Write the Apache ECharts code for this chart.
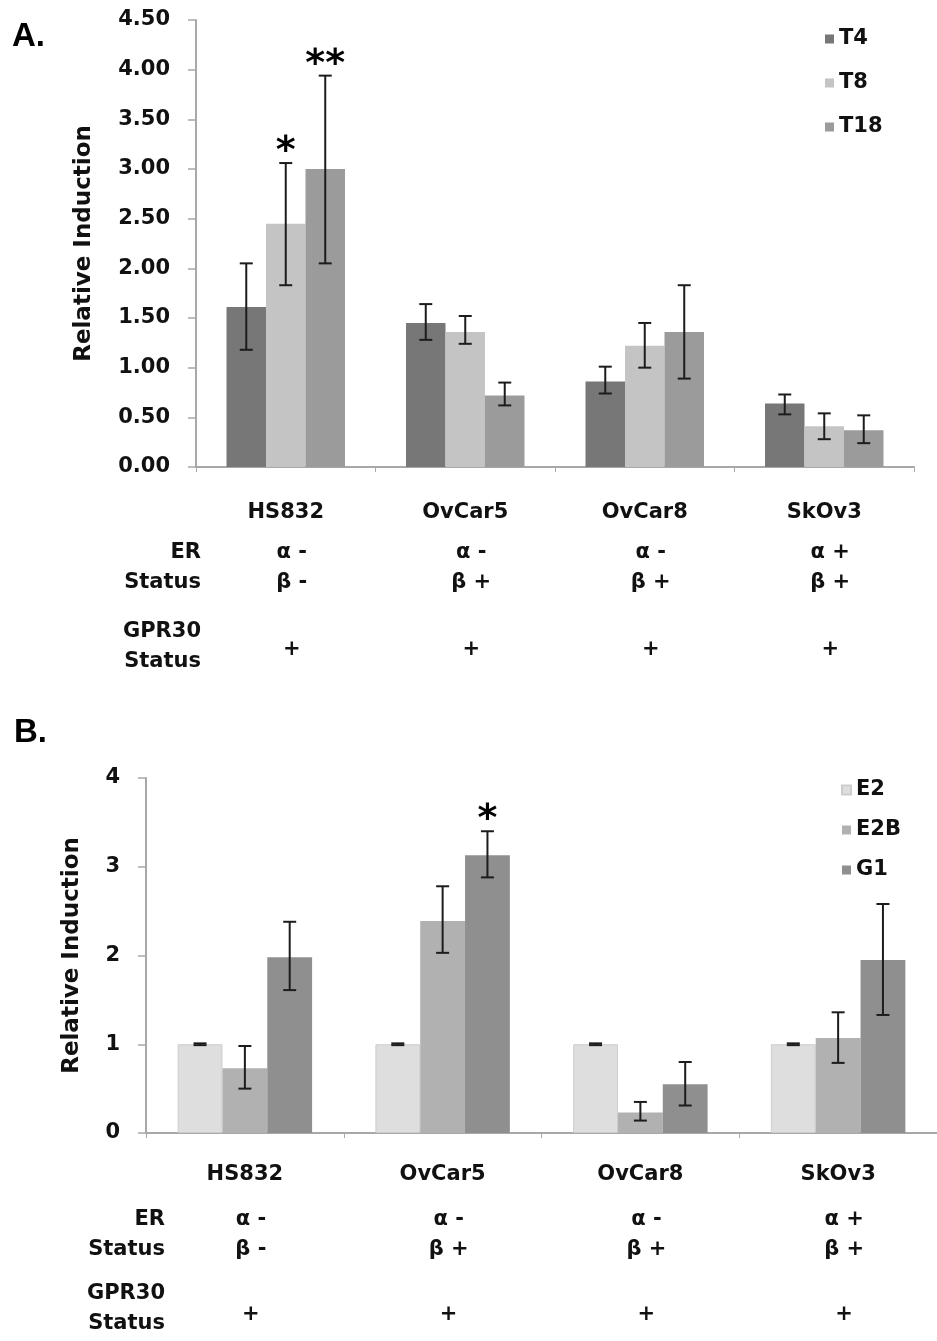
<!DOCTYPE html>
<html>
<head>
<meta charset="utf-8">
<script src="https://cdn.jsdelivr.net/npm/echarts@6/dist/echarts.min.js"></script>
<style>
html,body{margin:0;padding:0;background:#fff;}
#chart{width:937px;height:1341px;}
</style>
</head>
<body>
<div id="chart"></div>
<script>
// ---------- data ----------
const categories = ['HS832', 'OvCar5', 'OvCar8', 'SkOv3'];

// Panel A (time course)
const seriesNamesA = ['T4', 'T8', 'T18'];
const A_T4 = [1.61, 1.45, 0.86, 0.64];
const A_T4_lo = [1.18, 1.28, 0.74, 0.53];
const A_T4_hi = [2.05, 1.64, 1.01, 0.73];
const A_T8 = [2.45, 1.36, 1.22, 0.41];
const A_T8_lo = [1.83, 1.24, 1.00, 0.28];
const A_T8_hi = [3.06, 1.52, 1.45, 0.54];
const A_T18 = [3.00, 0.72, 1.36, 0.37];
const A_T18_lo = [2.05, 0.62, 0.89, 0.24];
const A_T18_hi = [3.94, 0.85, 1.83, 0.52];
const A_sig_T8 = ['*', '', '', ''];
const A_sig_T18 = ['**', '', '', ''];

// Panel B (ligands)
const seriesNamesB = ['E2', 'E2B', 'G1'];
const B_E2 = [1.00, 1.00, 1.00, 1.00];
const B_E2_lo = [0.99, 0.99, 0.99, 0.99];
const B_E2_hi = [1.01, 1.01, 1.01, 1.01];
const B_E2B = [0.73, 2.39, 0.23, 1.07];
const B_E2B_lo = [0.50, 2.03, 0.14, 0.79];
const B_E2B_hi = [0.98, 2.78, 0.35, 1.36];
const B_G1 = [1.98, 3.13, 0.55, 1.95];
const B_G1_lo = [1.61, 2.88, 0.31, 1.33];
const B_G1_hi = [2.38, 3.40, 0.80, 2.58];
const B_sig_G1 = ['', '*', '', ''];

// Status table rows
const erAlpha = ['α -', 'α -', 'α -', 'α +'];
const erBeta = ['β -', 'β +', 'β +', 'β +'];
const gpr30 = ['+', '+', '+', '+'];

// ---------- styling ----------
const FONT = 'DejaVu Sans';
const TXT = '#111';
const AXIS = '#a8a8a8';
const GAP = [0.34, 0.32];
const colorsA = ['#777777', '#c4c4c4', '#9b9b9b'];
const colorsB = ['#dedede', '#b1b1b1', '#8f8f8f'];

const chart = echarts.init(document.getElementById('chart'));

function barSeries(name, data, gi, color, extra) {
  return Object.assign({
    name: name, type: 'bar', xAxisIndex: gi, yAxisIndex: gi,
    data: data, barGap: '0%', barCategoryGap: (GAP[gi] * 100) + '%',
    itemStyle: { color: color }, silent: true
  }, extra || {});
}

function errSeries(gi, k, lo, hi, stars) {
  return {
    type: 'custom', xAxisIndex: gi, yAxisIndex: gi, silent: true, z: 10,
    data: categories.map((c, i) => [i, lo[i], hi[i]]),
    encode: { x: 0, y: [1, 2] },
    renderItem: function (params, api) {
      const i = api.value(0);
      const band = api.size([1, 0])[0];
      const bw = band * (1 - GAP[gi]) / 3;
      const pLo = api.coord([i, api.value(1)]);
      const pHi = api.coord([i, api.value(2)]);
      const x = pLo[0] + (k - 1) * bw;
      const cap = 6.5;
      const st = { stroke: '#1c1c1c', lineWidth: 2 };
      const children = [
        { type: 'line', shape: { x1: x, y1: pLo[1], x2: x, y2: pHi[1] }, style: st },
        { type: 'line', shape: { x1: x - cap, y1: pHi[1], x2: x + cap, y2: pHi[1] }, style: st },
        { type: 'line', shape: { x1: x - cap, y1: pLo[1], x2: x + cap, y2: pLo[1] }, style: st }
      ];
      const s = stars ? stars[params.dataIndex] : '';
      if (s) {
        children.push({
          type: 'text',
          style: { text: s, x: x, y: pHi[1] + 8, align: 'center', verticalAlign: 'bottom',
                   font: 'bold 38px "' + FONT + '"', fill: '#000' }
        });
      }
      return { type: 'group', children: children };
    }
  };
}

function xAxisCfg(gi, margin) {
  return {
    type: 'category', gridIndex: gi, data: categories,
    axisLine: { lineStyle: { color: AXIS, width: 2 } },
    axisTick: { show: true, length: 5, lineStyle: { color: AXIS, width: 1 } },
    axisLabel: { margin: margin, fontFamily: FONT, fontWeight: 'bold', fontSize: 21, color: TXT }
  };
}

function yAxisCfg(gi, max, interval, digits, nameGap) {
  return {
    type: 'value', gridIndex: gi, min: 0, max: max, interval: interval,
    name: 'Relative Induction', nameLocation: 'middle', nameGap: nameGap,
    nameTextStyle: { fontFamily: FONT, fontWeight: 'bold', fontSize: 23, color: TXT },
    axisLine: { show: true, lineStyle: { color: AXIS, width: 2 } },
    axisTick: { show: true, length: 8, lineStyle: { color: AXIS, width: 1.5 } },
    splitLine: { show: false },
    axisLabel: { margin: 26, fontFamily: FONT, fontWeight: 'bold', fontSize: 21, color: TXT,
                 formatter: v => v.toFixed(digits) }
  };
}

const legendText = { fontFamily: FONT, fontWeight: 'bold', fontSize: 21, color: TXT, lineHeight: 24 };

chart.setOption({
  animation: false,
  backgroundColor: '#fff',
  grid: [
    { left: 196, top: 20, width: 718, height: 447 },
    { left: 146, top: 778, width: 797, height: 355 }
  ],
  xAxis: [xAxisCfg(0, 35), xAxisCfg(1, 31)],
  yAxis: [yAxisCfg(0, 4.5, 0.5, 2, 100), yAxisCfg(1, 4, 1, 0, 62)],
  legend: [
    { data: seriesNamesA, orient: 'vertical', left: 820, top: 22, icon: 'rect',
      itemWidth: 9, itemHeight: 9, itemGap: 20, textStyle: legendText, selectedMode: false },
    { data: seriesNamesB, orient: 'vertical', left: 836, top: 773, icon: 'rect',
      itemWidth: 9, itemHeight: 9, itemGap: 16, textStyle: legendText, selectedMode: false }
  ],
  series: [
    barSeries('T4', A_T4, 0, colorsA[0]),
    barSeries('T8', A_T8, 0, colorsA[1]),
    barSeries('T18', A_T18, 0, colorsA[2]),
    errSeries(0, 0, A_T4_lo, A_T4_hi, null),
    errSeries(0, 1, A_T8_lo, A_T8_hi, A_sig_T8),
    errSeries(0, 2, A_T18_lo, A_T18_hi, A_sig_T18),
    barSeries('E2', B_E2, 1, colorsB[0], { itemStyle: { color: colorsB[0], borderColor: '#cdcdcd', borderWidth: 1 } }),
    barSeries('E2B', B_E2B, 1, colorsB[1]),
    barSeries('G1', B_G1, 1, colorsB[2]),
    errSeries(1, 0, B_E2_lo, B_E2_hi, null),
    errSeries(1, 1, B_E2B_lo, B_E2B_hi, null),
    errSeries(1, 2, B_G1_lo, B_G1_hi, B_sig_G1)
  ]
});

// ---------- status table & panel letters ----------
function txt(text, x, y, align, size) {
  return {
    type: 'text', x: x, y: y, silent: true,
    style: { text: text, align: align || 'center', verticalAlign: 'middle',
             font: 'bold ' + (size || 21) + 'px "' + FONT + '"', fill: TXT }
  };
}

const g = [];
g.push({ type: 'text', x: 12, y: 37, style: { text: 'A.', verticalAlign: 'middle',
         font: 'bold 33px "Liberation Sans"', fill: '#000' } });
g.push({ type: 'text', x: 14, y: 733, style: { text: 'B.', verticalAlign: 'middle',
         font: 'bold 33px "Liberation Sans"', fill: '#000' } });

function table(gi, rightX, yEr, yStatus, yGpr, yGprStatus, yPlus) {
  g.push(txt('ER', rightX, yEr, 'right'));
  g.push(txt('Status', rightX, yStatus, 'right'));
  g.push(txt('GPR30', rightX, yGpr, 'right'));
  g.push(txt('Status', rightX, yGprStatus, 'right'));
  categories.forEach((c, i) => {
    const x = chart.convertToPixel({ xAxisIndex: gi }, i) + 6;
    g.push(txt(erAlpha[i], x, yEr));
    g.push(txt(erBeta[i], x, yStatus));
    g.push(txt(gpr30[i], x, yPlus));
  });
}
table(0, 201, 553, 583, 632, 662, 650);
table(1, 165, 1220, 1250, 1294, 1324, 1315);

chart.setOption({ graphic: g });
</script>
</body>
</html>
